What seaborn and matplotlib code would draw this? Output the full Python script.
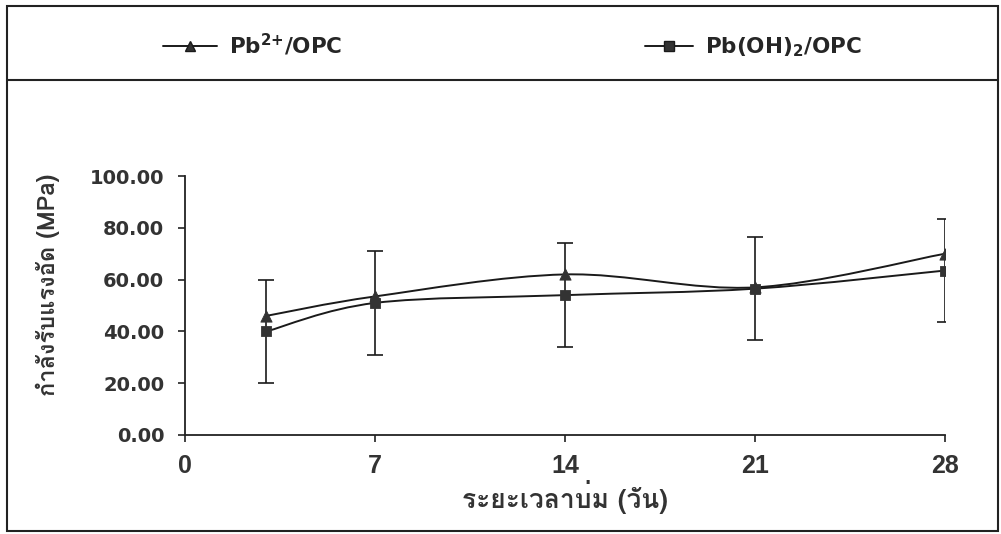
import matplotlib
matplotlib.use("Agg")
import matplotlib.pyplot as plt
import seaborn as sns
import numpy as np
import pandas as pd
from matplotlib import font_manager as fm
from matplotlib.ft2font import FT2Font
from matplotlib.path import Path
from matplotlib.patches import PathPatch, Rectangle
from matplotlib.lines import Line2D

# ---------------- data ----------------
days = [3, 7, 14, 21, 28]
pb_ion = [46.0, 53.5, 62.0, 57.0, 70.0]        # Pb2+/OPC
pb_oh = [40.0, 51.0, 54.0, 56.5, 63.5]         # Pb(OH)2/OPC
pb_oh_err = [20.0, 20.0, 20.0, 20.0, 20.0]
x_ticks = [0, 7, 14, 21, 28]
y_ticks = [0, 20, 40, 60, 80, 100]
series_names = ["Pb$^{2{+}}$/OPC", "Pb(OH)$_2$/OPC"]
x_label = "ระยะเวลาบ่ม (วัน)"
y_label = "กำลังรับแรงอัด (MPa)"

# ---------------- fonts ----------------
sns.set_theme(style="ticks")
thai_fonts = []
for f in fm.fontManager.ttflist:
    try:
        cm = FT2Font(f.fname).get_charmap()
    except Exception:
        continue
    if 0x0E01 in cm and f.name not in thai_fonts:
        thai_fonts.append(f.name)
thai_family = [thai_fonts[0], "DejaVu Sans"] if thai_fonts else ["DejaVu Sans"]

plt.rcParams["font.family"] = ["DejaVu Sans"]
plt.rcParams["mathtext.fontset"] = "custom"
plt.rcParams["mathtext.rm"] = "DejaVu Sans:bold"
plt.rcParams["mathtext.bf"] = "DejaVu Sans:bold"
plt.rcParams["mathtext.it"] = "DejaVu Sans:bold"
plt.rcParams["mathtext.default"] = "rm"

df = pd.DataFrame({"day": days, "ion": pb_ion, "oh": pb_oh, "err": pb_oh_err})

fig = plt.figure(figsize=(10.01, 5.34), dpi=100)
fig.patch.set_facecolor("white")
ax = fig.add_axes([0.1848, 0.1854, 0.7593, 0.4850])
ax.set_facecolor("white")


def smooth_path(xs, ys):
    pts = np.column_stack([xs, ys]).astype(float)
    n = len(pts)
    verts = [pts[0]]
    codes = [Path.MOVETO]
    for i in range(n - 1):
        p0 = pts[i - 1] if i > 0 else pts[i]
        p1 = pts[i]
        p2 = pts[i + 1]
        p3 = pts[i + 2] if i + 2 < n else pts[i + 1]
        c1 = p1 + (p2 - p0) / 6.0
        c2 = p2 - (p3 - p1) / 6.0
        verts += [c1, c2, p2]
        codes += [Path.CURVE4] * 3
    return Path(verts, codes)


for col in ["ion", "oh"]:
    ax.add_patch(PathPatch(smooth_path(df["day"], df[col]), facecolor="none",
                           edgecolor="#1a1a1a", lw=1.4, zorder=3))

ax.errorbar(df["day"], df["oh"], yerr=df["err"], fmt="none", ecolor="#1a1a1a",
            elinewidth=1.2, capsize=5.5, capthick=1.2, zorder=2)

sns.scatterplot(data=df, x="day", y="ion", marker="^", s=65, color="#333333",
                edgecolor="#333333", ax=ax, zorder=4, legend=False)
sns.scatterplot(data=df, x="day", y="oh", marker="s", s=55, color="#333333",
                edgecolor="#333333", ax=ax, zorder=4, legend=False)

ax.set_xlim(0, 28)
ax.set_ylim(0, 100)
ax.set_xticks(x_ticks)
ax.set_yticks(y_ticks)
ax.set_xticklabels([str(t) for t in x_ticks], fontsize=18, fontweight="bold", color="#333333",
                   family=["Liberation Sans Narrow", "Liberation Sans"])
ax.set_yticklabels([f"{t:.2f}" for t in y_ticks], fontsize=14, fontweight="bold", color="#333333",
                   family=["DejaVu Sans"])
ax.tick_params(axis="both", direction="out", length=5, width=1.2, color="#222222")
ax.tick_params(axis="y", pad=10)
ax.tick_params(axis="x", pad=9)
for s in ["top", "right"]:
    ax.spines[s].set_visible(False)
for s in ["left", "bottom"]:
    ax.spines[s].set_color("#222222")
    ax.spines[s].set_linewidth(1.3)
ax.set_xlabel(x_label, fontsize=19, fontweight="bold", family=thai_family, color="#333333")
ax.set_ylabel(y_label, fontsize=17, fontweight="bold", family=thai_family, color="#333333")
ax.xaxis.set_label_coords(0.5, -0.175)
ax.yaxis.set_label_coords(-0.165, 0.579)
ax.grid(False)

# legend (two entries positioned like the original header)
handles = [
    Line2D([], [], color="#1a1a1a", lw=1.4, marker="^", markersize=7, markerfacecolor="#333333"),
    Line2D([], [], color="#1a1a1a", lw=1.4, marker="s", markersize=7, markerfacecolor="#333333"),
]
for h, name, x0, y0, hl in zip(handles, series_names, [163 / 1001, 645 / 1001],
                               [1 - 45 / 534, 1 - 47 / 534], [2.5, 2.25]):
    fig.legend([h], [name], loc="center left", bbox_to_anchor=(x0, y0),
               frameon=False, handlelength=hl, handletextpad=0.55, borderaxespad=0,
               borderpad=0, prop={"family": "DejaVu Sans", "weight": "bold", "size": 15.5})

# frame and divider
fig.add_artist(Rectangle((7 / 1001, 3 / 534), 991 / 1001, 525 / 534, transform=fig.transFigure,
                         fill=False, edgecolor="#222222", lw=1.5))
fig.add_artist(Line2D([7 / 1001, 998 / 1001], [1 - 80 / 534, 1 - 80 / 534],
                      transform=fig.transFigure, color="#222222", lw=1.5))

fig.savefig("out.png", dpi=100, facecolor="white")
